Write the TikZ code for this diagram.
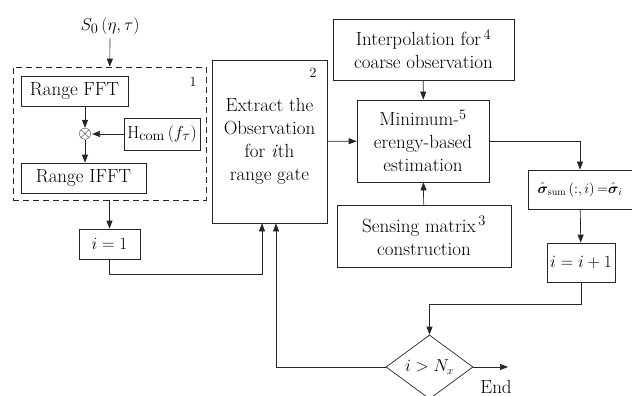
\documentclass[tikz,border=0pt]{standalone}
\usepackage{amsmath}
\usetikzlibrary{arrows.meta, positioning, shapes.geometric}
\colorlet{ln}{black!85}

\begin{document}
\begin{tikzpicture}[x=1pt, y=-1pt, ->, >={Triangle[length=8pt,width=6pt]}, draw=ln, line width=0.7pt, font=\fontsize{19}{23}\selectfont]
    \tikzstyle{block}=[draw=ln, rectangle, align=center, inner sep=2pt]
    \tikzstyle{group}=[draw=ln, dash pattern=on 6pt off 4pt, rectangle]
    \tikzstyle{decision}=[draw=ln, diamond, minimum width=87pt, minimum height=64pt, inner sep=0pt, font=\fontsize{16}{18}\selectfont]
    \tikzstyle{tag}=[font=\fontsize{14}{14}\selectfont]

    \clip (0,0) rectangle (632,396);

    % range compression
    \node (src) at (110,26) {$S_0\left(\eta,\tau\right)$};
    \node[group, minimum width=193pt, minimum height=133pt] (grp) at (109.5,133.5) {};
    \node[tag] at (193,82) {1};
    \node[block, minimum width=107pt, minimum height=30pt] (fft) at (74.5,91) {Range FFT};
    \node[inner sep=0pt] (mix) at (85,134) {$\otimes$};
    \node[block, minimum width=76pt, minimum height=32pt, inner sep=1pt] (hcom) at (162,134) {$\mathrm{H}_{\mathrm{com}}\left(f_\tau\right)$};
    \node[block, minimum width=125pt, minimum height=30pt] (ifft) at (83.5,178) {Range IFFT};
    \node[block, minimum width=61pt, minimum height=30pt] (init) at (109.5,244) {$i=1$};

    % per range gate
    \node[block, minimum width=115pt, minimum height=163pt] (ext) at (269.5,141.5) {Extract the\\Observation\\for \textit{i}th\\range gate};
    \node[tag] at (313,73) {2};
    \node[block, minimum width=181pt, minimum height=61pt] (interp) at (423.5,49.5) {Interpolation for$^{\,4}$\\coarse observation};
    \node[block, minimum width=132pt, minimum height=82pt] (est) at (423,141) {Minimum-$^{5}$\\erengy-based\\estimation};
    \node[block, minimum width=174pt, minimum height=62pt] (sens) at (424,236) {Sensing matrix$^{\,3}$\\construction};
    \node[block, minimum width=104pt, minimum height=39pt, inner sep=1pt, font=\fontsize{14}{16}\selectfont] (sig) at (580,189.5) {$\hat{\boldsymbol\sigma}_{\mathrm{sum}}\left(:,i\right){=}\hat{\boldsymbol\sigma}_i$};
    \node[block, minimum width=68pt, minimum height=39pt] (inc) at (581,262.5) {$i=i+1$};
    \node[decision] (chk) at (429.5,367) {$i>N_x$};
    \node (fin) at (496,387) {End};

    \coordinate (loop) at (429.5,304);
    \coordinate (out) at (508,367);
    \coordinate (in1) at ([xshift=-7.5pt]ext.south);
    \coordinate (in2) at ([xshift=6.5pt]ext.south);

    \path (src) edge (grp);
    \path (fft.south -| mix) edge (mix);
    \path (hcom) edge (mix);
    \path (mix) edge (mix |- ifft.north);
    \path (grp.south -| init) edge (init);

    \foreach \a/\b in {ext/est, interp/est, sens/est, sig/inc, chk/out}
        \path (\a) edge (\b);

    \draw (est.east) -| (sig.north);
    \draw (init.south) -- ++(0,15) -| (in1);
    \draw (chk.west) -| (in2);
    \draw (inc.south) |- (loop) -- (chk.north);
\end{tikzpicture}
\end{document}
